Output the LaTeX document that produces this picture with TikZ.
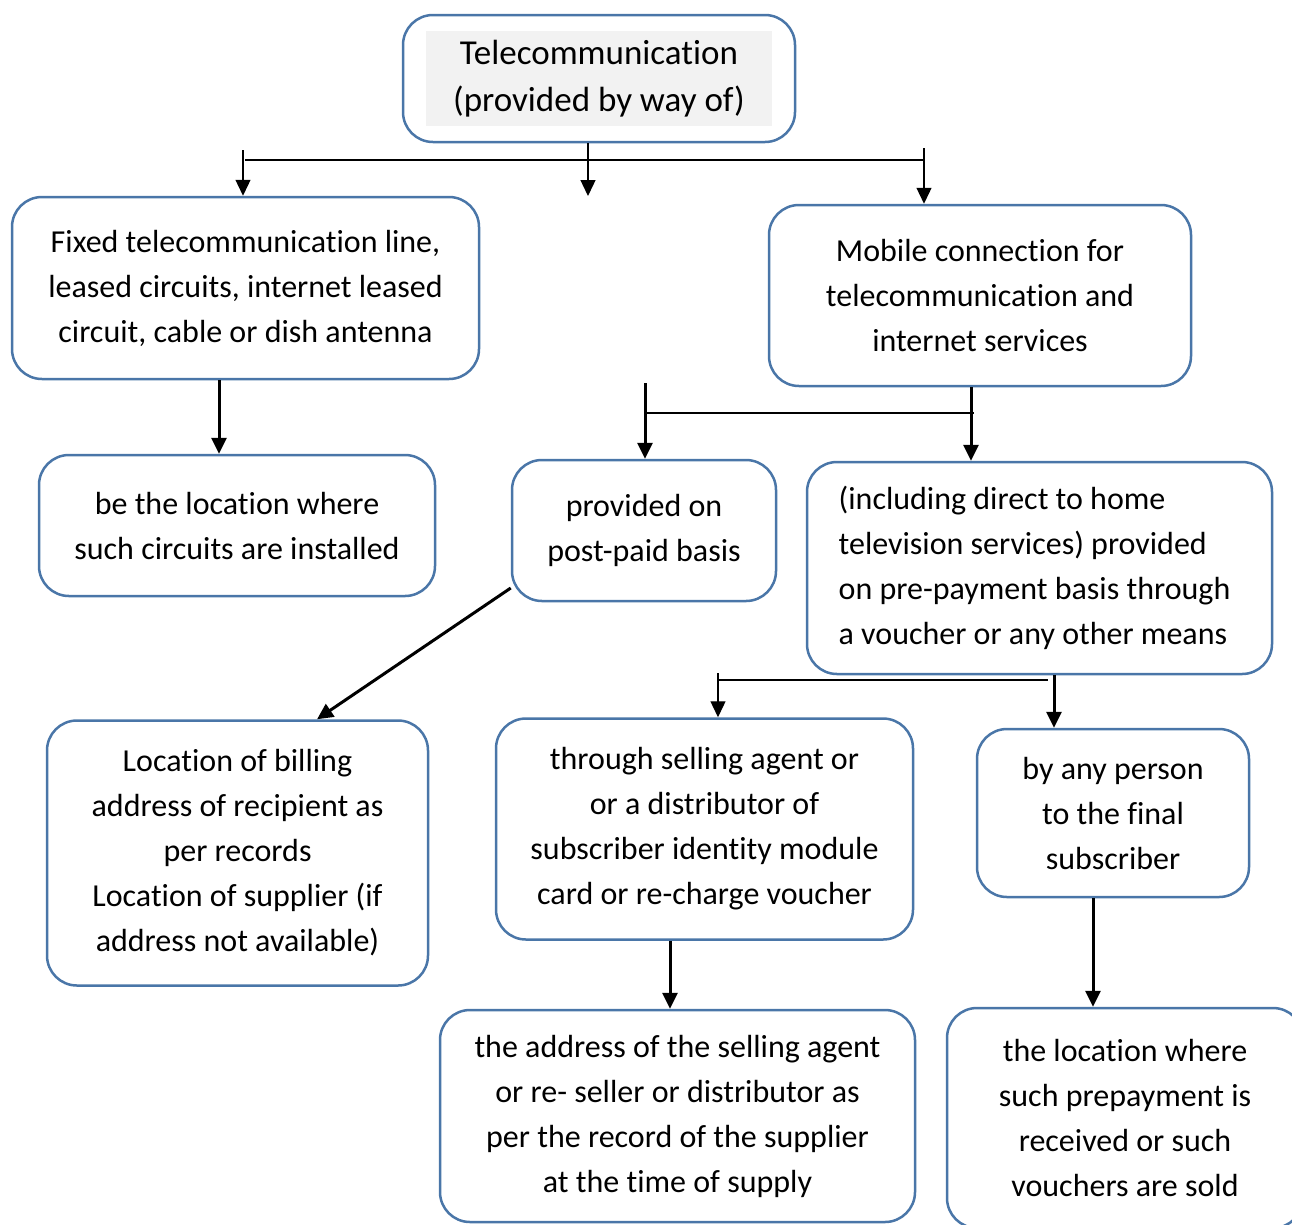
\documentclass[tikz,border=0pt]{standalone}
\usepackage{fontspec}
\setmainfont{Carlito}[Ligatures={NoCommon}]
\usetikzlibrary{arrows.meta}
\definecolor{boxblue}{HTML}{4A76A8}
\definecolor{shade}{HTML}{F2F2F2}
\begin{document}
\begin{tikzpicture}[x=1pt,y=-1pt,
  box/.style={draw=boxblue, line width=2.5pt, rounded corners=30pt, align=center, inner sep=0pt, font=\fontsize{32}{45}\selectfont},
  thinline/.style={line width=1.3pt},
  thickline/.style={line width=3pt},
  tip/.style={-{Triangle[length=16pt,width=15pt]}}
]
\useasboundingbox (0,0) rectangle (1292,1224);
\clip (0,0) rectangle (1292,1224);

% nodes
\node[box, minimum width=392pt, minimum height=127pt] (top) at (599,78.5) {};
\node[fill=shade, minimum width=346pt, minimum height=93pt, inner sep=0pt, align=center, font=\fontsize{35}{48}\selectfont] (toptext) at (599,78.5) {\raisebox{-3pt}{\begin{tabular}{@{}c@{}}Telecommunication\\[-0.5pt](provided by way of)\end{tabular}}};

\node[box, minimum width=467pt, minimum height=182pt] (fixed) at (245.5,288) {Fixed telecommunication line,\\leased circuits, internet leased\\circuit, cable or dish antenna};
\node[box, minimum width=422pt, minimum height=181pt] (mobile) at (980,295.5) {Mobile connection for\\telecommunication and\\internet services};
\node[box, minimum width=396pt, minimum height=141pt] (loc) at (237,525.5) {be the location where\\such circuits are installed};
\node[box, minimum width=264pt, minimum height=141pt] (post) at (644,530.5) {provided on\\post-paid basis};
\node[box, minimum width=465pt, minimum height=212pt, align=left] (prepay) at (1039.5,568) {\hspace*{-10pt}(including direct to home\\\hspace*{-10pt}television services) provided\\\hspace*{-10pt}on pre-payment basis through\\\hspace*{-10pt}a voucher or any other means};
\node[box, minimum width=381pt, minimum height=265pt] (billing) at (237.5,853) {Location of billing\\address of recipient as\\per records\\Location of supplier (if\\address not available)};
\node[box, minimum width=417pt, minimum height=221pt] (agent) at (704.5,829) {through selling agent or\\or a distributor of\\subscriber identity module\\card or re-charge voucher};
\node[box, minimum width=272pt, minimum height=168pt] (person) at (1113,813) {by any person\\to the final\\subscriber};
\node[box, minimum width=475pt, minimum height=212pt] (address) at (677.5,1116) {the address of the selling agent\\or re- seller or distributor as\\per the record of the supplier\\at the time of supply};
\node[box, minimum width=356pt, minimum height=220pt] (where) at (1125,1118) {the location where\\such prepayment is\\received or such\\vouchers are sold};

% coordinates
\coordinate (t1) at (588,160);
\coordinate (tmid) at (588,196);
\coordinate (hl) at (245,160);
\coordinate (hr) at (924,160);
\coordinate (tl) at (243,150);
\coordinate (tr) at (924,148);
\coordinate (lx) at (219,0);
\coordinate (mL) at (645,383);
\coordinate (mR) at (971,0);
\coordinate (h2l) at (645,413);
\coordinate (h2r) at (974,413);
\coordinate (pb) at (0,588);
\coordinate (bx) at (317,0);
\coordinate (h3l) at (718,680);
\coordinate (h3r) at (1048,680);
\coordinate (pL) at (718,673);
\coordinate (pR) at (1054,0);
\coordinate (ax) at (670,0);
\coordinate (wx) at (1093,0);

% connectors
\draw[thinline] (top.south -| t1) -- (t1);
\draw[thinline,tip] (t1) -- (tmid);
\draw[thinline] (hl) -- (hr);
\draw[thinline,tip] (tl) -- (tl |- fixed.north);
\draw[thinline,tip] (tr) -- (tr |- mobile.north);

\draw[thickline,tip] (fixed.south -| lx) -- (loc.north -| lx);

\draw[thinline] (h2l) -- (h2r);
\draw[thickline,tip] (mL) -- (mL |- post.north);
\draw[thickline,tip] (mobile.south -| mR) -- (prepay.north -| mR);

\draw[thickline,tip] (post.west |- pb) -- (billing.north -| bx);

\draw[thinline] (h3l) -- (h3r);
\draw[thinline,tip] (pL) -- (agent.north -| pL);
\draw[thickline,tip] (prepay.south -| pR) -- (person.north -| pR);

\draw[thickline,tip] (agent.south -| ax) -- (address.north -| ax);
\draw[thickline,tip] (person.south -| wx) -- (where.north -| wx);
\end{tikzpicture}
\end{document}
